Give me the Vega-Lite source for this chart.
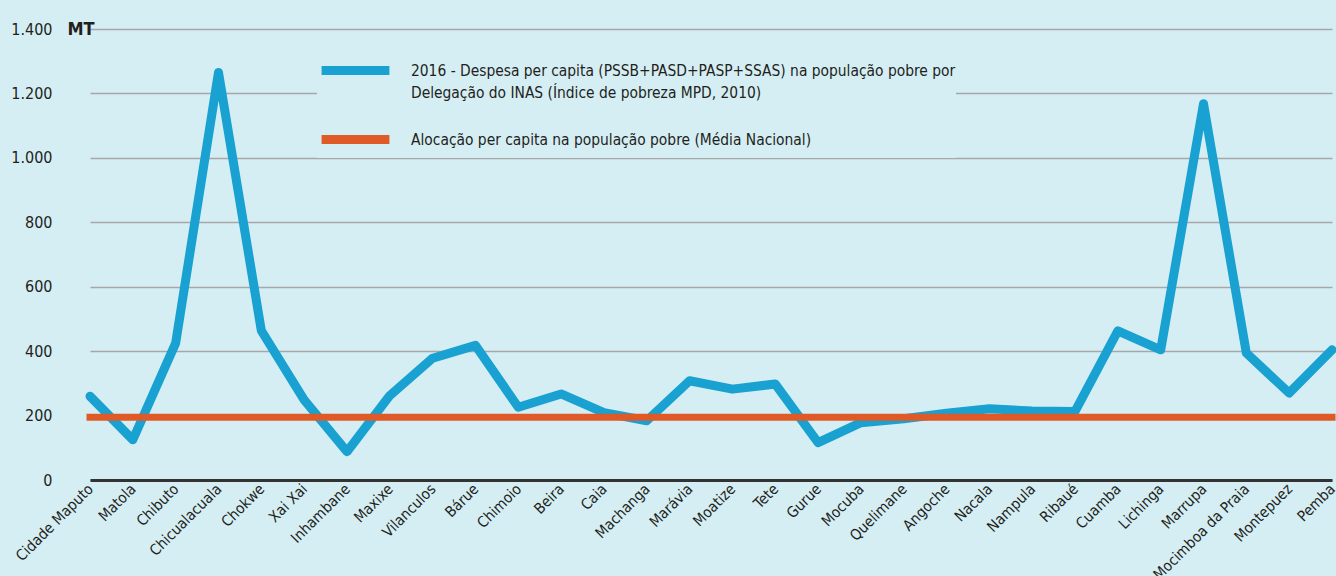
{
  "$schema": "https://vega.github.io/schema/vega-lite/v6.json",
  "width": 1269,
  "height": 451,
  "autosize": {"type": "none"},
  "padding": {"left": 67, "top": 29, "right": 0, "bottom": 96},
  "background": "#d5eef4",
  "config": {
    "view": {"stroke": null},
    "font": "DejaVu Sans Condensed, DejaVu Sans, sans-serif",
    "locale": {"number": {"decimal": ",", "thousands": ".", "grouping": [3], "currency": ["", ""]}}
  },
  "data": {
    "values": [
      {"delegacao": "Cidade Maputo", "despesa": 260, "media": 195},
      {"delegacao": "Matola", "despesa": 125, "media": 195},
      {"delegacao": "Chibuto", "despesa": 425, "media": 195},
      {"delegacao": "Chicualacuala", "despesa": 1265, "media": 195},
      {"delegacao": "Chokwe", "despesa": 464, "media": 195},
      {"delegacao": "Xai Xai", "despesa": 249, "media": 195},
      {"delegacao": "Inhambane", "despesa": 88, "media": 195},
      {"delegacao": "Maxixe", "despesa": 262, "media": 195},
      {"delegacao": "Vilanculos", "despesa": 378, "media": 195},
      {"delegacao": "Bárue", "despesa": 418, "media": 195},
      {"delegacao": "Chimoio", "despesa": 226, "media": 195},
      {"delegacao": "Beira", "despesa": 267, "media": 195},
      {"delegacao": "Caia", "despesa": 209, "media": 195},
      {"delegacao": "Machanga", "despesa": 184, "media": 195},
      {"delegacao": "Marávia", "despesa": 308, "media": 195},
      {"delegacao": "Moatize", "despesa": 282, "media": 195},
      {"delegacao": "Tete", "despesa": 298, "media": 195},
      {"delegacao": "Gurue", "despesa": 116, "media": 195},
      {"delegacao": "Mocuba", "despesa": 178, "media": 195},
      {"delegacao": "Quelimane", "despesa": 190, "media": 195},
      {"delegacao": "Angoche", "despesa": 207, "media": 195},
      {"delegacao": "Nacala", "despesa": 221, "media": 195},
      {"delegacao": "Nampula", "despesa": 214, "media": 195},
      {"delegacao": "Ribaué", "despesa": 213, "media": 195},
      {"delegacao": "Cuamba", "despesa": 463, "media": 195},
      {"delegacao": "Lichinga", "despesa": 404, "media": 195},
      {"delegacao": "Marrupa", "despesa": 1168, "media": 195},
      {"delegacao": "Mocimboa da Praia", "despesa": 394, "media": 195},
      {"delegacao": "Montepuez", "despesa": 270, "media": 195},
      {"delegacao": "Pemba", "despesa": 404, "media": 195}
    ]
  },
  "transform": [{"fold": ["despesa", "media"], "as": ["serie", "valor"]}],
  "encoding": {
    "x": {
      "field": "delegacao",
      "type": "nominal",
      "sort": null,
      "scale": {"type": "point", "range": [23, 1265], "padding": 0},
      "axis": {
        "title": null,
        "domainColor": "#333333",
        "domainWidth": 3,
        "ticks": false,
        "grid": false,
        "labelAngle": -45,
        "labelAlign": "right",
        "labelBaseline": "middle",
        "labelFontSize": 15,
        "labelPadding": 6,
        "labelColor": "#231f20"
      }
    },
    "y": {
      "field": "valor",
      "type": "quantitative",
      "scale": {"domain": [0, 1400]},
      "axis": {
        "values": [0, 200, 400, 600, 800, 1000, 1200, 1400],
        "format": ",d",
        "domain": false,
        "ticks": false,
        "grid": true,
        "gridColor": "#a7a7a7",
        "gridWidth": 1.5,
        "labelFontSize": 16,
        "labelColor": "#231f20",
        "labelPadding": 15,
        "title": "MT",
        "titleAngle": 0,
        "titleX": 0,
        "titleY": 0,
        "titleAlign": "left",
        "titleBaseline": "middle",
        "titleFontSize": 18,
        "titleFontWeight": "bold",
        "titleColor": "#231f20"
      }
    },
    "color": {
      "field": "serie",
      "type": "nominal",
      "scale": {"domain": ["despesa", "media"], "range": ["#18a1d1", "#e05a28"]},
      "legend": {
        "orient": "none",
        "legendX": 250,
        "legendY": 3,
        "title": null,
        "fillColor": "#d5eef4",
        "padding": 0,
        "symbolType": "stroke",
        "symbolSize": 4600,
        "symbolStrokeWidth": 9,
        "labelFontSize": 15.4,
        "labelColor": "#231f20",
        "labelOffset": 17,
        "labelLimit": 800,
        "rowPadding": -10,
        "labelExpr": "datum.label == 'despesa' ? ['2016 - Despesa per capita (PSSB+PASD+PASP+SSAS) na população pobre por', 'Delegação do INAS (Índice de pobreza MPD, 2010)'] : 'Alocação per capita na população pobre (Média Nacional)'",
        "encode": {"labels": {"update": {"lineHeight": {"value": 22}}}}
      }
    }
  },
  "layer": [
    {
      "transform": [{"filter": "datum.serie == 'despesa'"}],
      "mark": {"type": "line", "strokeWidth": 9, "strokeCap": "round", "strokeJoin": "round"}
    },
    {
      "transform": [{"filter": "datum.serie == 'media'"}],
      "mark": {"type": "line", "strokeWidth": 7, "strokeCap": "square"}
    }
  ]
}
